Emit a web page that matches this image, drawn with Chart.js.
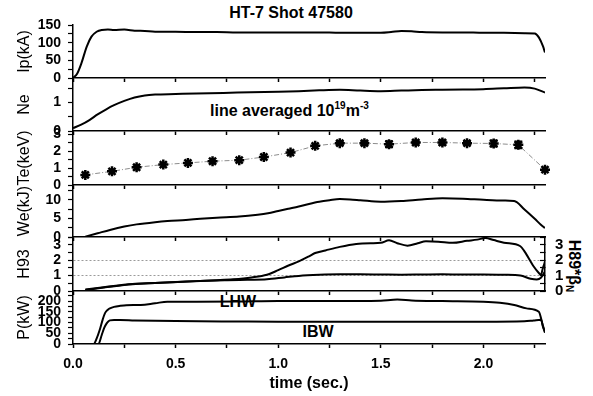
<!DOCTYPE html>
<html>
<head>
<meta charset="utf-8">
<title>HT-7 Shot 47580</title>
<script src="https://cdn.jsdelivr.net/npm/chart.js@4.4.1/dist/chart.umd.min.js"></script>
<style>
    html, body { margin: 0; padding: 0; background: #fff; }
    #stack { position: relative; width: 593px; height: 396px; overflow: hidden; }
    #stack canvas { position: absolute; left: 0; }
    .note { position: absolute; font-family: "Liberation Sans", Arial, sans-serif; font-weight: bold; color: #000; white-space: nowrap; line-height: 1; }
    .note sup { font-size: 10px; vertical-align: 7px; line-height: 0; }
    .note sub { font-size: 10px; vertical-align: -3px; line-height: 0; }
    .center { transform: translate(-50%, -50%); }
</style>
</head>
<body>
<div id="stack">
    <div class="note center" style="left:291px; top:13px; font-size:16px;">HT-7 Shot 47580</div>
    <div class="note" style="left:210px; top:103px; font-size:16px;">line averaged 10<sup>19</sup>m<sup>-3</sup></div>
    <div class="note center" style="left:238px; top:302px; font-size:16px;">LHW</div>
    <div class="note center" style="left:318px; top:332px; font-size:16px;">IBW</div>
    <div class="note" style="left:574px; top:266px; font-size:16px; transform: translate(-50%, -50%) rotate(90deg);">H89*&beta;<sub>N</sub></div>
</div>
<script>
// shared time axis (sec.)
const X_MIN = 0;
const X_MAX = 2.3;
const xTicks = [0, 0.5, 1, 1.5, 2];

// plasma current Ip (kA)
const ipTime = [0, 0.02, 0.04, 0.067, 0.09, 0.115, 0.14, 0.17, 0.2, 0.25, 0.3, 0.35, 0.4, 0.5, 0.6, 0.7, 0.8, 0.9, 1.0, 1.1, 1.2, 1.3, 1.4, 1.5, 1.55, 1.6, 1.65, 1.7, 1.8, 1.9, 2.0, 2.1, 2.2, 2.25, 2.27, 2.29, 2.3];
const ipValues = [0, 12, 40, 89, 117, 131, 136, 137, 136, 137, 134, 133, 131, 131, 130, 130, 129, 129, 129, 129, 129, 128, 128, 128, 130, 133, 132, 130, 129, 129, 128, 128, 127, 126, 115, 90, 72];
const ipTicks = [0, 50, 100, 150];

// line averaged density Ne (10^19 m^-3)
const neTime = [0, 0.04, 0.08, 0.12, 0.16, 0.2, 0.25, 0.3, 0.35, 0.4, 0.5, 0.6, 0.8, 1.0, 1.1, 1.2, 1.3, 1.4, 1.5, 1.6, 1.7, 1.8, 1.9, 2.0, 2.1, 2.2, 2.25, 2.3];
const neValues = [0.1, 0.22, 0.38, 0.58, 0.75, 0.9, 1.05, 1.17, 1.24, 1.27, 1.29, 1.31, 1.34, 1.37, 1.39, 1.42, 1.44, 1.41, 1.39, 1.41, 1.43, 1.44, 1.45, 1.46, 1.49, 1.52, 1.48, 1.34];
const neTicks = [0, 1];

// electron temperature Te (keV) with error bars
const teTime = [0.06, 0.19, 0.31, 0.44, 0.56, 0.68, 0.81, 0.93, 1.06, 1.18, 1.30, 1.42, 1.54, 1.67, 1.80, 1.92, 2.05, 2.17, 2.30];
const teValues = [0.6, 0.81, 1.05, 1.21, 1.31, 1.41, 1.47, 1.66, 1.92, 2.32, 2.48, 2.48, 2.42, 2.52, 2.52, 2.48, 2.46, 2.38, 0.91];
const teError = [0, 0, 0, 0, 0, 0, 0, 0, 0, 0, 0.1, 0.1, 0.18, 0.08, 0.12, 0.08, 0.18, 0.2, 0];
const teTicks = [0, 1, 2, 3];

// stored energy We (kJ)
const weTime = [0.06, 0.12, 0.18, 0.25, 0.31, 0.4, 0.46, 0.55, 0.62, 0.7, 0.81, 0.9, 0.95, 1.0, 1.05, 1.1, 1.15, 1.2, 1.25, 1.3, 1.35, 1.4, 1.5, 1.6, 1.7, 1.8, 1.9, 2.0, 2.1, 2.15, 2.2, 2.25, 2.28, 2.3];
const weValues = [0.1, 1.0, 1.9, 2.8, 3.4, 4.0, 4.3, 4.6, 4.9, 5.2, 5.5, 6.0, 6.4, 7.0, 7.6, 8.2, 8.9, 9.5, 9.9, 10.2, 10.1, 9.9, 9.5, 9.7, 10.1, 10.4, 10.3, 10.0, 9.8, 9.7, 7.4, 4.9, 3.3, 2.4];
const weTicks = [0, 5, 10];

// confinement factors: H93 (left) and betaN*H89 (right)
const h93Time = [0.06, 0.15, 0.29, 0.4, 0.5, 0.62, 0.75, 0.85, 0.945, 1.03, 1.1, 1.2, 1.3, 1.4, 1.5, 1.6, 1.7, 1.8, 1.9, 2.0, 2.1, 2.18, 2.23, 2.26, 2.28, 2.3];
const h93Values = [0.07, 0.22, 0.44, 0.52, 0.58, 0.65, 0.7, 0.73, 0.76, 0.88, 0.98, 1.05, 1.08, 1.08, 1.07, 1.06, 1.07, 1.08, 1.07, 1.07, 1.05, 1.0, 0.8, 0.75, 0.86, 1.27];
const bnTime = [0.06, 0.15, 0.29, 0.4, 0.49, 0.6, 0.7, 0.78, 0.87, 0.945, 1.0, 1.05, 1.1, 1.15, 1.18, 1.23, 1.3, 1.38, 1.45, 1.5, 1.54, 1.58, 1.63, 1.68, 1.72, 1.78, 1.85, 1.92, 1.97, 2.01, 2.05, 2.1, 2.18, 2.2, 2.245, 2.27, 2.28, 2.29, 2.3];
const bnValues = [0.1, 0.25, 0.46, 0.52, 0.57, 0.64, 0.7, 0.76, 0.88, 1.05, 1.35, 1.65, 1.92, 2.25, 2.46, 2.63, 2.86, 3.05, 3.1, 3.12, 3.29, 3.1, 2.94, 3.1, 3.22, 3.2, 3.12, 3.25, 3.33, 3.44, 3.3, 3.13, 2.9, 2.57, 1.59, 1.17, 1.05, 1.5, 1.9];
const hTicks = [0, 1, 2, 3];
const hRefLines = [1, 2];

// heating power P (kW)
const lhwTime = [0, 0.10, 0.115, 0.13, 0.145, 0.156, 0.17, 0.18, 0.2, 0.23, 0.26, 0.33, 0.4, 0.46, 0.6, 0.8, 1.0, 1.2, 1.4, 1.5, 1.58, 1.65, 1.8, 2.0, 2.08, 2.15, 2.21, 2.27, 2.282, 2.29, 2.3];
const lhwValues = [0, 0, 25, 65, 115, 144, 160, 166, 173, 178, 181, 182, 190, 197, 197, 198, 200, 200, 200, 202, 207, 203, 200, 197, 192, 182, 166, 150, 115, 80, 57];
const ibwTime = [0, 0.124, 0.14, 0.152, 0.164, 0.172, 0.18, 0.2, 0.23, 0.3, 0.5, 0.8, 1.0, 1.5, 2.0, 2.2, 2.245, 2.28, 2.29, 2.3];
const ibwValues = [0, 0, 42, 75, 96, 105, 110, 112, 112, 110, 107, 105, 104, 104, 104, 106, 110, 113, 85, 52];
const pTicks = [0, 50, 100, 150, 200];

// page layout
const PAGE_W = 593;
const PAGE_H = 396;
const PLOT_RIGHT = 545;
const AXIS_W = 73;
const PANEL_EDGES = [25, 78, 131, 185, 237, 291, 344];
const PAD_TOP = 12;
const TICK_BAND = 12;
const FONT = '"Liberation Sans", Arial, sans-serif';

function trace(xs, ys, extra) {
    return Object.assign({
        data: xs.map((x, i) => ({ x: x, y: ys[i] })),
        borderColor: '#000',
        borderWidth: 2,
        pointRadius: 0,
        fill: false,
        cubicInterpolationMode: 'monotone'
    }, extra);
}

// the panels are stacked by hand, so drop the label overhang chart.js reserves
function fixSize(s, w, h) {
    if (w !== null) s.width = w;
    if (h !== null) s.height = h;
    s.paddingTop = 0;
    s.paddingBottom = 0;
    s.paddingLeft = 0;
    s.paddingRight = 0;
}

function xAxis(last, height) {
    return {
        type: 'linear',
        min: X_MIN,
        max: X_MAX,
        border: { color: '#000', width: 1.5 },
        grid: { drawOnChartArea: false, tickLength: 4, tickColor: '#000', tickWidth: 1.5 },
        ticks: {
            stepSize: 0.25,
            includeBounds: false,
            autoSkip: false,
            maxRotation: 0,
            display: last,
            padding: 8,
            color: '#000',
            font: { family: FONT, size: 14, weight: 'bold' },
            callback: v => xTicks.includes(v) ? v.toFixed(1) : ''
        },
        title: {
            display: last,
            text: 'time (sec.)',
            color: '#000',
            font: { family: FONT, size: 16, weight: 'bold' },
            padding: { top: 0, bottom: 3 }
        },
        afterFit: s => fixSize(s, null, height)
    };
}

function yAxis(cfg) {
    const refs = cfg.refLines || [];
    return {
        position: 'left',
        min: 0,
        max: cfg.max,
        border: { color: '#000', width: 1.5, dash: refs.length ? [2, 2] : [] },
        grid: {
            drawOnChartArea: refs.length > 0,
            color: ctx => (ctx.tick && refs.includes(ctx.tick.value)) ? '#9a9a9a' : 'rgba(0,0,0,0)',
            lineWidth: 1,
            tickLength: 5,
            tickColor: '#000',
            tickWidth: 1.2
        },
        ticks: {
            stepSize: cfg.step,
            includeBounds: false,
            autoSkip: false,
            padding: 7,
            color: '#000',
            font: { family: FONT, size: 14, weight: 'bold' },
            callback: v => cfg.labels.includes(v) ? String(v) : ''
        },
        title: {
            display: true,
            text: cfg.title,
            color: '#000',
            font: { family: FONT, size: 16 },
            padding: { top: 15, bottom: 0 }
        },
        afterFit: s => fixSize(s, AXIS_W, null)
    };
}

function rightAxis(cfg) {
    return {
        position: 'right',
        min: 0,
        max: cfg.max,
        border: { color: '#000', width: 1.5 },
        grid: { drawOnChartArea: false, tickLength: -5, tickColor: '#000', tickWidth: 1.2 },
        ticks: {
            stepSize: cfg.step,
            includeBounds: false,
            autoSkip: false,
            padding: 15,
            color: '#000',
            font: { family: FONT, size: 15, weight: 'bold' },
            callback: v => cfg.labels.includes(v) ? String(v) : ''
        },
        afterFit: s => fixSize(s, PAGE_W - PLOT_RIGHT, null)
    };
}

// I-shaped error bars on the Te points
const errorBars = {
    id: 'errorBars',
    afterDatasetsDraw(chart) {
        const xs = chart.scales.x;
        const ys = chart.scales.y;
        const ctx = chart.ctx;
        ctx.save();
        ctx.strokeStyle = '#000';
        ctx.lineWidth = 2;
        teTime.forEach((t, i) => {
            const e = teError[i];
            if (!e) return;
            const px = xs.getPixelForValue(t);
            const lo = ys.getPixelForValue(teValues[i] - e);
            const hi = ys.getPixelForValue(teValues[i] + e);
            ctx.beginPath();
            ctx.moveTo(px, lo); ctx.lineTo(px, hi);
            ctx.moveTo(px - 4, lo); ctx.lineTo(px + 4, lo);
            ctx.moveTo(px - 4, hi); ctx.lineTo(px + 4, hi);
            ctx.stroke();
        });
        ctx.restore();
    }
};

function buildPanel(index, cfg) {
    const top = PANEL_EDGES[index];
    const bottom = PANEL_EDGES[index + 1];
    const last = index === PANEL_EDGES.length - 2;
    const axisHeight = last ? PAGE_H - bottom : TICK_BAND;

    const canvas = document.createElement('canvas');
    canvas.width = PAGE_W;
    canvas.height = bottom - top + PAD_TOP + axisHeight;
    canvas.style.top = (top - PAD_TOP) + 'px';
    document.getElementById('stack').appendChild(canvas);

    const scales = { x: xAxis(last, axisHeight), y: yAxis(cfg) };
    if (cfg.right) scales.y2 = rightAxis(cfg.right);

    return new Chart(canvas, {
        type: 'line',
        data: { datasets: cfg.datasets },
        options: {
            responsive: false,
            animation: false,
            events: [],
            layout: { padding: { top: PAD_TOP, bottom: 0, left: 0, right: cfg.right ? 0 : PAGE_W - PLOT_RIGHT } },
            plugins: { legend: { display: false }, tooltip: { enabled: false } },
            scales: scales
        },
        plugins: cfg.plugins || []
    });
}

const panels = [
    { title: 'Ip(kA)', max: 150, step: 25, labels: ipTicks,
      datasets: [trace(ipTime, ipValues)] },
    { title: 'Ne', max: 1.85, step: 0.5, labels: neTicks,
      datasets: [trace(neTime, neValues)] },
    { title: 'Te(keV)', max: 3.2, step: 0.5, labels: teTicks,
      datasets: [trace(teTime, teValues, {
          borderColor: '#8c8c8c', borderWidth: 1, borderDash: [5, 2, 1, 2],
          cubicInterpolationMode: 'default', tension: 0,
          pointStyle: 'star', pointRadius: 5, pointBorderWidth: 2.5,
          pointBorderColor: '#000', pointBackgroundColor: '#000', clip: false
      })],
      plugins: [errorBars] },
    { title: 'We(kJ)', max: 14, step: 2.5, labels: weTicks,
      datasets: [trace(weTime, weValues)] },
    { title: 'H93', max: 3.5, step: 0.5, labels: hTicks, refLines: hRefLines,
      right: { max: 3.5, step: 0.5, labels: hTicks },
      datasets: [trace(h93Time, h93Values), trace(bnTime, bnValues, { yAxisID: 'y2' })] },
    { title: 'P(kW)', max: 247, step: 25, labels: pTicks,
      datasets: [trace(lhwTime, lhwValues), trace(ibwTime, ibwValues)] }
];

panels.forEach((cfg, i) => buildPanel(i, cfg));
</script>
</body>
</html>
